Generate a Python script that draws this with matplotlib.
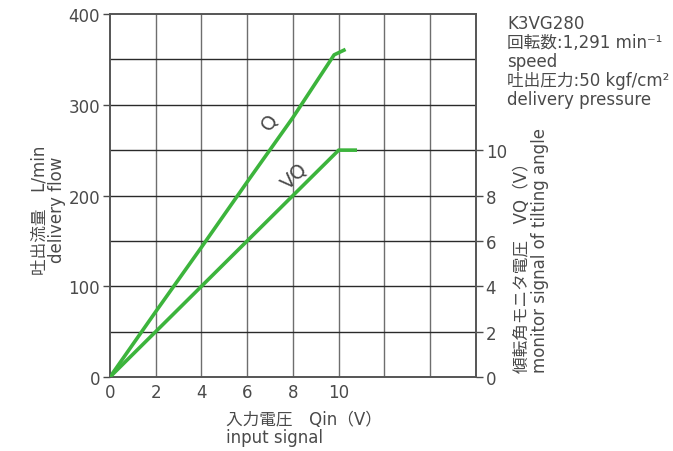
import matplotlib
matplotlib.use("Agg")
import matplotlib.pyplot as plt

# Latin glyphs from DejaVu (wide, like the reference), Japanese from Noto CJK
plt.rcParams["font.family"] = ["DejaVu Sans", "Noto Sans CJK JP"]

# input signal Qin (V)
q_x = [0, 2, 4, 6, 8, 9.8, 10.3]
# delivery flow Q (L/min)
q_y = [0, 72, 143, 215, 286, 355, 361]

vq_x = [0, 2, 4, 6, 8, 10, 10.8]
# monitor signal VQ (V)
vq_y = [0, 2, 4, 6, 8, 10, 10]

x_ticks = [0, 2, 4, 6, 8, 10]
y_ticks = [0, 100, 200, 300, 400]
vq_ticks = [0, 2, 4, 6, 8, 10]
VQ_SCALE = 25  # 10 V <-> 250 L/min

GREEN = "#3cb43c"
TXT = "#4a4a4a"

fig = plt.figure(figsize=(6.73, 4.52), dpi=100)
ax = fig.add_axes([0.1634, 0.1637, 0.5438, 0.8031])

ax.set_xlim(0, 16)
ax.set_ylim(0, 400)

for gx in range(2, 16, 2):
    ax.axvline(gx, color="#6e6e6e", lw=1.0, zorder=1)
for gy in range(50, 400, 50):
    ax.axhline(gy, color="#2a2a2a", lw=1.0, zorder=1)

ax.plot(q_x, q_y, color=GREEN, lw=2.6, zorder=3, solid_capstyle="butt")
ax2 = ax.twinx()
ax2.set_ylim(0, 400 / VQ_SCALE)
ax2.plot(vq_x, vq_y, color=GREEN, lw=2.6, zorder=3, solid_capstyle="butt")

ax.text(6.95, 282, "Q", rotation=57, fontsize=14, color=TXT, ha="center", va="center")
ax.text(8.05, 222, "VQ", rotation=45, fontsize=14, color=TXT, ha="center", va="center")

ax.set_xticks(x_ticks)
ax.set_yticks(y_ticks)
ax2.set_yticks(vq_ticks)
ax.tick_params(axis="x", length=0, pad=4, labelsize=12, colors=TXT)
ax.tick_params(axis="y", length=5, width=1, pad=2, labelsize=12, colors=TXT)
ax2.tick_params(axis="y", length=5, width=1, pad=2, labelsize=12, colors=TXT)

for a in (ax, ax2):
    for s in a.spines.values():
        s.set_color("#555555")
        s.set_linewidth(1.2)

fig.text(48 / 673, 1 - 210 / 452, "吐出流量　L/min\ndelivery flow", rotation=90,
         ha="center", va="center", multialignment="center", fontsize=12,
         color=TXT, linespacing=1.0)

fig.text(531 / 673, 1 - 373 / 452, "傾転角モニタ電圧　VQ（V）\nmonitor signal of tilting angle",
         rotation=90, ha="center", va="bottom", multialignment="left", fontsize=12,
         color=TXT, linespacing=1.0)

fig.text(226 / 673, 1 - 447 / 452, "入力電圧　Qin（V）\ninput signal", ha="left", va="bottom",
         multialignment="left", fontsize=12, color=TXT, linespacing=1.0)

fig.text(507 / 673, 1 - 15 / 452,
         "K3VG280\n回転数:1,291 min⁻¹\nspeed\n吐出圧力:50 kgf/cm²\ndelivery pressure",
         ha="left", va="top", fontsize=12, color=TXT, linespacing=1.07)

fig.savefig("out.png", dpi=100)
